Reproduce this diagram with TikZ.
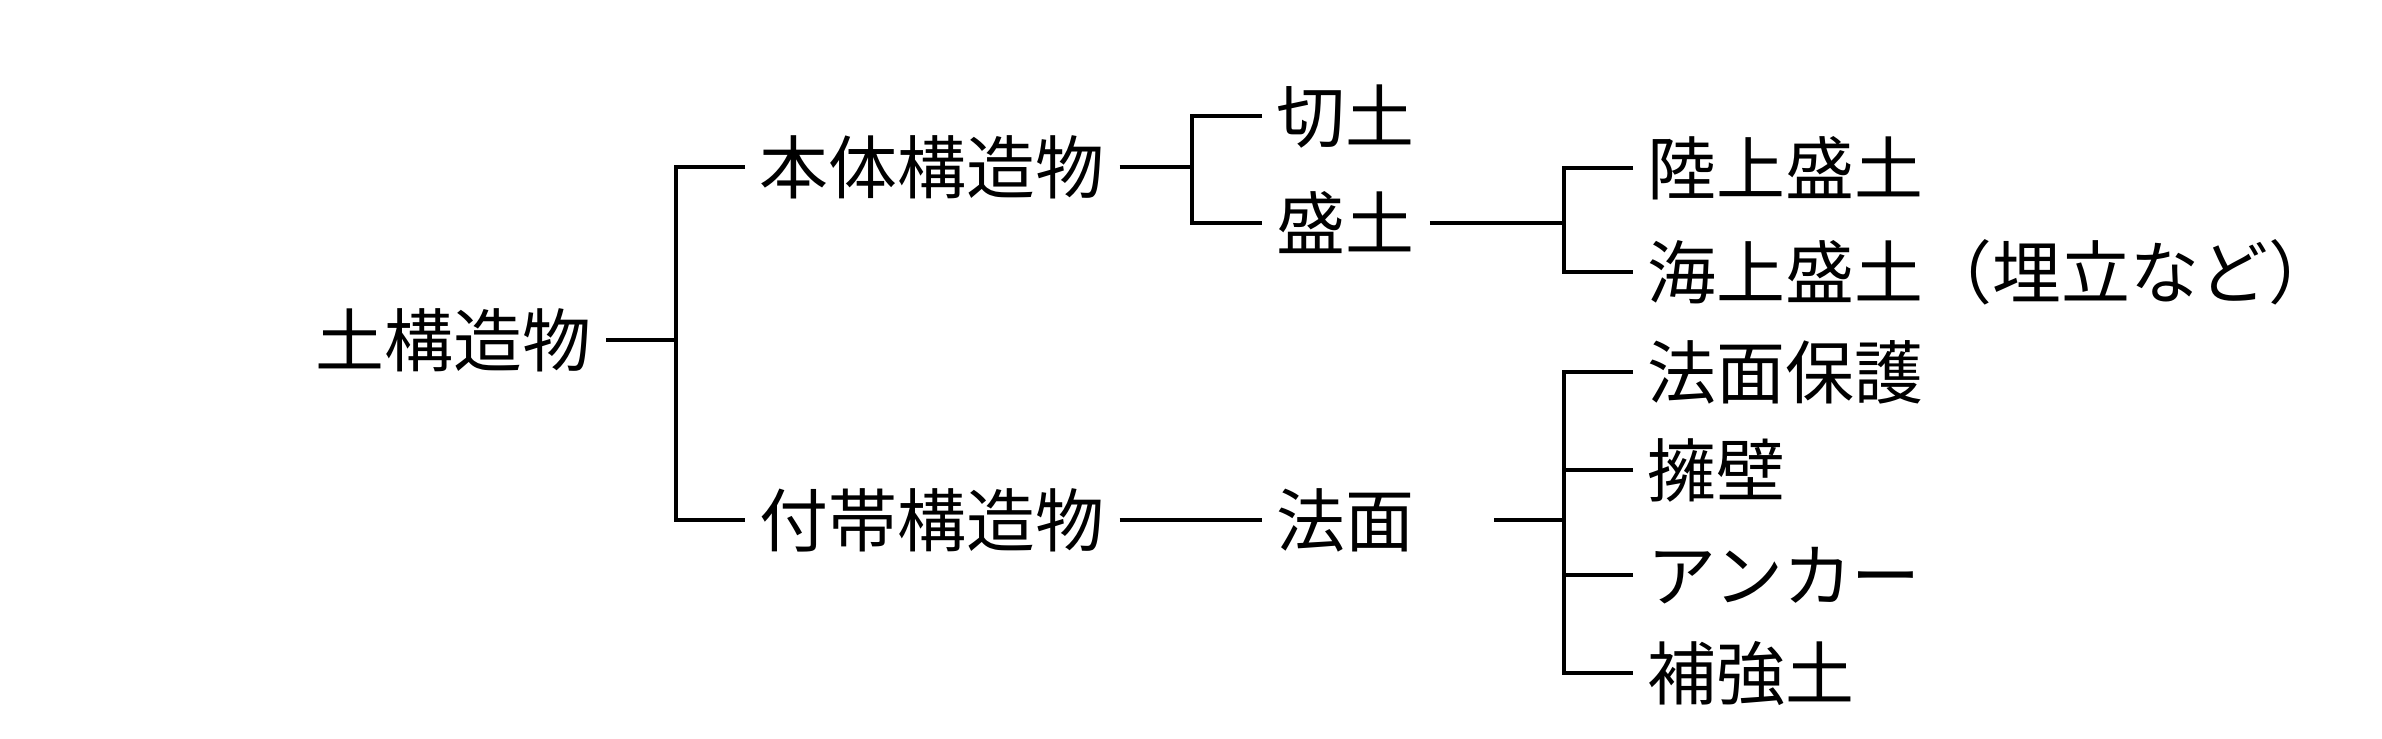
\documentclass[tikz,border=0pt]{standalone}
\usepackage{fontspec}
\usepackage{tikz}
\newfontfamily\jpfont{Noto Sans CJK JP}

\begin{document}
\begin{tikzpicture}[x=0.01cm,y=-0.01cm,line width=1.1pt,
  lbl/.style={inner xsep=0.13cm,inner ysep=0pt,text height=0.57cm,text depth=0.05cm,
    font=\jpfont\fontsize{19.6pt}{22pt}\selectfont}]
\useasboundingbox (0,0) rectangle (2382,738);

\node [lbl,anchor=east] (root) at (606,340) {土構造物};
\node [lbl,anchor=west] (hontai) at (745,167) {本体構造物};
\node [lbl,anchor=west] (futai) at (745,520) {付帯構造物};

\node [lbl,anchor=west] (kirido) at (1262,116) {切土};
\node [lbl,anchor=west] (morido) at (1262,223) {盛土};
\node [lbl,anchor=west] (norimen) at (1262,520) {法面};

\node [lbl,anchor=west] (rikujo) at (1633,168) {陸上盛土};
\node [lbl,anchor=west] (kaijo) at (1633,272) {海上盛土（埋立など）};
\node [lbl,anchor=west] (hogo) at (1633,372) {法面保護};
\node [lbl,anchor=west] (yoheki) at (1633,470) {擁壁};
\node [lbl,anchor=west] (ankaa) at (1633,575) {アンカー};
\node [lbl,anchor=west] (hokyo) at (1633,673) {補強土};

\coordinate (j1) at (676,0);
\coordinate (j2) at (1192,0);
\coordinate (j3) at (1564,0);
\coordinate (nstart) at (1494,520);

\draw (root.east) -- (root.east -| j1);
\draw (hontai.west) -- (hontai.west -| j1) -- (futai.west -| j1) -- (futai.west);

\draw (hontai.east) -- (hontai.east -| j2);
\draw (kirido.west) -- (kirido.west -| j2) -- (morido.west -| j2) -- (morido.west);
\draw (futai.east) -- (norimen.west);

\draw (morido.east) -- (morido.east -| j3);
\draw (rikujo.west) -- (rikujo.west -| j3) -- (kaijo.west -| j3) -- (kaijo.west);

\draw (nstart) -- (nstart -| j3);
\draw (hogo.west) -- (hogo.west -| j3) -- (hokyo.west -| j3) -- (hokyo.west);
\draw (yoheki.west) -- (yoheki.west -| j3);
\draw (ankaa.west) -- (ankaa.west -| j3);
\end{tikzpicture}
\end{document}
